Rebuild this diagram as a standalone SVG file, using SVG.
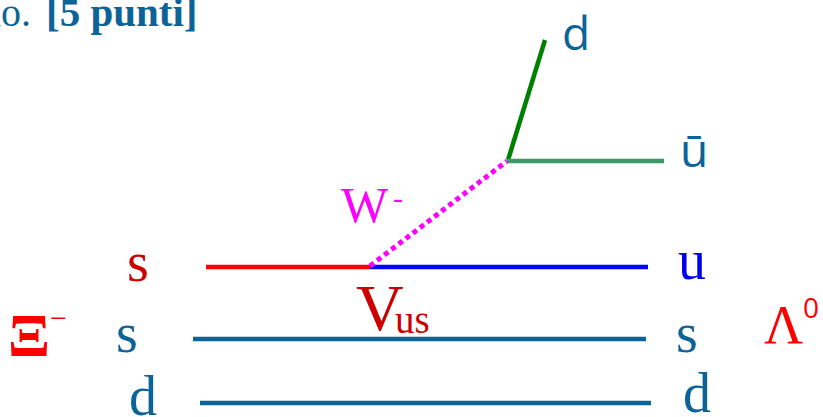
<svg xmlns="http://www.w3.org/2000/svg" width="823" height="417" viewBox="0 0 823 417">
<style>
.serif{font-family:"Liberation Serif","Times New Roman",serif}
.sans{font-family:"Open Sans","Liberation Sans",sans-serif}
.blue{fill:#0b6397}
.ln{fill:none;stroke-width:4.5}
</style>
<rect width="823" height="417" fill="#ffffff"/>
<g id="header">
<text class="serif blue" x="31" y="26" font-size="40" text-anchor="end">io.</text>
<text class="serif blue" x="46" y="26" font-size="41" font-weight="bold">[5 punti]</text>
</g>
<g id="connectors">
<line class="ln" x1="508" y1="160" x2="545" y2="40" stroke="#008000"/>
<line class="ln" x1="507" y1="161" x2="664" y2="161" stroke="#3a9a66"/>
<line class="ln" x1="206" y1="267" x2="370" y2="267" stroke="#ff0000"/>
<line class="ln" x1="370" y1="267" x2="648" y2="267" stroke="#0000ff"/>
<line x1="370" y1="266" x2="507" y2="161" stroke="#ff00ff" stroke-width="5" stroke-dasharray="5 4"/>
<line class="ln" x1="193" y1="339" x2="646" y2="339" stroke="#0b6397"/>
<line class="ln" x1="200" y1="403" x2="651" y2="403" stroke="#0b6397"/>
</g>
<g id="xi"><text class="serif" x="8" y="356" font-size="62" font-weight="bold" fill="#ff0000">Ξ</text><text class="serif" x="50" y="328" font-size="30" fill="#ff0000">−</text></g>
<g id="lambda"><text class="serif" x="764" y="343" font-size="54" fill="#ff0000">Λ</text><text class="sans" x="803" y="318" font-size="28" fill="#ff0000">0</text></g>
<g id="W"><text class="serif" x="341" y="222" font-size="50" fill="#ff00ff">W</text><text class="serif" x="393" y="208" font-size="30" fill="#ff00ff">-</text></g>
<g id="Vus"><text class="serif" x="356" y="330" font-size="66" fill="#cc0000">V</text><text class="serif" x="395" y="333" font-size="39" fill="#cc0000">us</text></g>
<g id="q-s1"><text class="serif" x="127" y="281" font-size="56" fill="#cc0000">s</text></g>
<g id="q-u"><text class="serif" x="678" y="279" font-size="56" fill="#0000ee">u</text></g>
<g id="q-s2"><text class="serif blue" x="116" y="352" font-size="56">s</text></g>
<g id="q-s3"><text class="serif blue" x="676" y="352" font-size="56">s</text></g>
<g id="q-d1"><text class="serif blue" x="129" y="415" font-size="56">d</text></g>
<g id="q-d2"><text class="serif blue" x="683" y="412" font-size="56">d</text></g>
<g id="q-d3"><text class="sans blue" x="562" y="50" font-size="46">d</text></g>
<g id="q-ubar"><text class="sans blue" x="680" y="167" font-size="46">ū</text></g>
</svg>
